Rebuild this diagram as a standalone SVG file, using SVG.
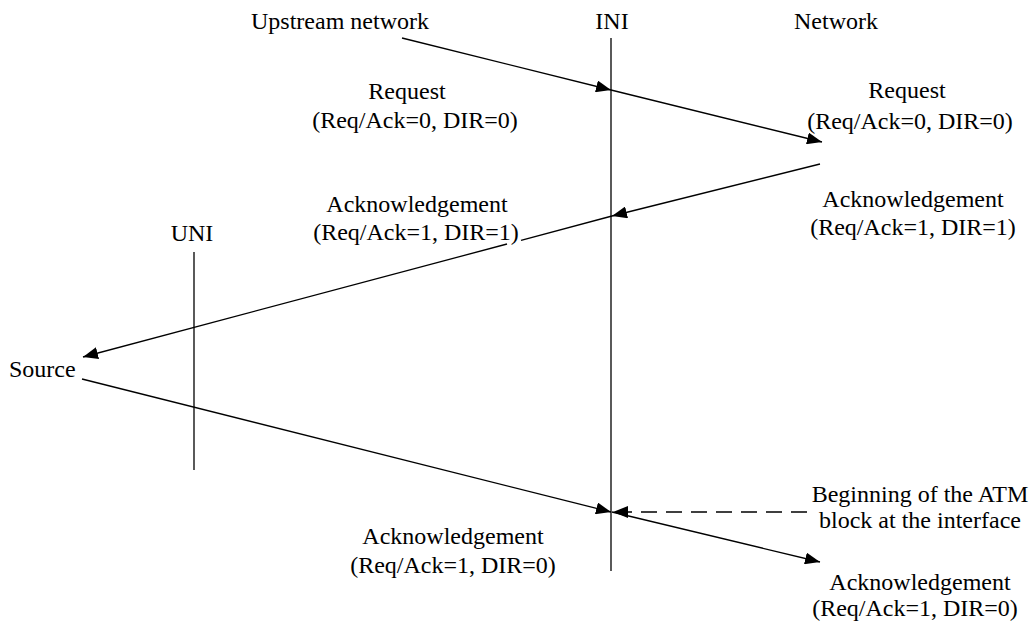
<svg xmlns="http://www.w3.org/2000/svg" width="1031" height="621" viewBox="0 0 1031 621">
<style>
.t{font-family:'Liberation Serif','Times New Roman',Times,'DejaVu Serif',serif;font-size:24px;fill:#000}
.m{text-anchor:middle}
.ln{stroke:#000;stroke-width:1.3;fill:none}
.ar{stroke:#000;stroke-width:1.3;fill:none;marker-end:url(#ah)}
.dash{stroke:#000;stroke-width:1.3;fill:none;stroke-dasharray:16 9;marker-end:url(#ah)}
</style>
<defs>
<marker id="ah" markerUnits="userSpaceOnUse" markerWidth="16" markerHeight="12" refX="15" refY="6" orient="auto">
<path d="M0,0 L15,6 L0,12 Z" fill="#000"/>
</marker>
</defs>
<rect width="1031" height="621" fill="#fff"/>
<g class="t" font-family="Liberation Serif, Times New Roman, serif" font-size="24">
<g id="ini">
<text class="m" x="612" y="29">INI</text>
<line class="ln" x1="611" y1="38" x2="611" y2="571"/>
</g>
<g id="uni">
<text class="m" x="192" y="241">UNI</text>
<line class="ln" x1="194" y1="252" x2="194" y2="470"/>
</g>
<g id="upstream"><text x="251" y="29">Upstream network</text></g>
<g id="network"><text x="794" y="29">Network</text></g>
<g id="source"><text x="9" y="377">Source</text></g>
<g id="labels">
<text class="m" x="407" y="99">Request</text>
<text class="m" x="415" y="128">(Req/Ack=0, DIR=0)</text>
<text class="m" x="907" y="98">Request</text>
<text class="m" x="910" y="129">(Req/Ack=0, DIR=0)</text>
<text class="m" x="417" y="212">Acknowledgement</text>
<text class="m" x="416" y="240">(Req/Ack=1, DIR=1)</text>
<text class="m" x="913" y="207">Acknowledgement</text>
<text class="m" x="913" y="235">(Req/Ack=1, DIR=1)</text>
<text class="m" x="453" y="544">Acknowledgement</text>
<text class="m" x="453" y="573">(Req/Ack=1, DIR=0)</text>
<text class="m" x="920" y="502">Beginning of the ATM</text>
<text class="m" x="920" y="528">block at the interface</text>
<text class="m" x="920" y="590">Acknowledgement</text>
<text class="m" x="915" y="616">(Req/Ack=1, DIR=0)</text>
</g>
</g>
<g id="connectors">
<line class="ar" x1="402" y1="38" x2="611" y2="90"/>
<line class="ar" x1="611" y1="90" x2="822" y2="142"/>
<line class="ar" x1="820" y1="164" x2="612" y2="216"/>
<line class="ln" x1="612" y1="216" x2="521" y2="240.3"/>
<line class="ar" x1="507" y1="244" x2="83" y2="357"/>
<line class="ar" x1="82" y1="379" x2="611" y2="512"/>
<line class="ar" x1="612" y1="512" x2="820" y2="562"/>
<line class="dash" x1="807" y1="512" x2="613" y2="512"/>
</g>
</svg>
